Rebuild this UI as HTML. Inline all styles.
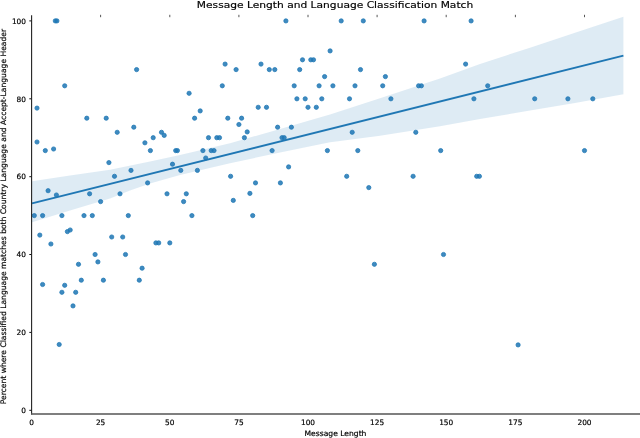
<!DOCTYPE html>
<html lang="en">
<head>
<meta charset="utf-8">
<title>Message Length and Language Classification Match</title>
<style>
html,body{margin:0;padding:0;background:#fff;}
body{width:640px;height:438px;overflow:hidden;}
svg{display:block;}
svg text{font-family:"DejaVu Sans","Liberation Sans",sans-serif;fill:#000;stroke:#000;stroke-width:0.18px;}
.tick{font-size:7.4px;}
.lab{font-size:7.6px;}
.title{font-size:10.68px;}
</style>
</head>
<body>
<svg width="640" height="438" viewBox="0 0 640 438">
<rect width="640" height="438" fill="#ffffff"/>
<polygon points="32.0,181.3 70.0,175.6 110.0,169.7 150.0,161.4 180.0,154.9 230.0,143.2 280.0,129.0 330.0,114.4 340.0,111.3 380.0,98.3 440.0,78.6 480.0,64.0 530.0,47.7 575.0,32.8 623.4,16.8 623.4,94.2 575.0,102.9 530.0,110.5 480.0,119.1 440.0,126.3 380.0,135.8 340.0,141.0 330.0,142.3 280.0,152.5 230.0,163.2 180.0,175.0 150.0,183.6 130.0,190.6 110.0,198.6 70.0,210.4 32.0,222.3" fill="#1f77b4" fill-opacity="0.15"/>
<g fill="#1f77b4" fill-opacity="0.86" stroke="#1f77b4" stroke-opacity="0.95" stroke-width="0.8">
<circle cx="55.3" cy="20.9" r="2.12"/>
<circle cx="56.9" cy="20.9" r="2.12"/>
<circle cx="64.7" cy="85.8" r="2.12"/>
<circle cx="136.6" cy="69.6" r="2.12"/>
<circle cx="189.1" cy="93.3" r="2.12"/>
<circle cx="37.0" cy="108.1" r="2.12"/>
<circle cx="86.8" cy="118.2" r="2.12"/>
<circle cx="106.2" cy="118.2" r="2.12"/>
<circle cx="285.9" cy="20.9" r="2.12"/>
<circle cx="341.2" cy="20.9" r="2.12"/>
<circle cx="330.1" cy="50.9" r="2.12"/>
<circle cx="302.5" cy="59.8" r="2.12"/>
<circle cx="310.8" cy="59.8" r="2.12"/>
<circle cx="313.5" cy="59.8" r="2.12"/>
<circle cx="225.1" cy="64.1" r="2.12"/>
<circle cx="261.0" cy="64.1" r="2.12"/>
<circle cx="236.1" cy="69.6" r="2.12"/>
<circle cx="269.3" cy="69.6" r="2.12"/>
<circle cx="274.8" cy="69.6" r="2.12"/>
<circle cx="299.7" cy="69.6" r="2.12"/>
<circle cx="324.6" cy="76.6" r="2.12"/>
<circle cx="222.3" cy="85.8" r="2.12"/>
<circle cx="294.2" cy="85.8" r="2.12"/>
<circle cx="319.1" cy="85.8" r="2.12"/>
<circle cx="332.9" cy="85.8" r="2.12"/>
<circle cx="296.9" cy="98.8" r="2.12"/>
<circle cx="305.2" cy="98.8" r="2.12"/>
<circle cx="321.8" cy="98.8" r="2.12"/>
<circle cx="349.5" cy="98.8" r="2.12"/>
<circle cx="258.2" cy="107.3" r="2.12"/>
<circle cx="266.5" cy="107.3" r="2.12"/>
<circle cx="308.0" cy="107.3" r="2.12"/>
<circle cx="316.3" cy="107.3" r="2.12"/>
<circle cx="200.2" cy="110.9" r="2.12"/>
<circle cx="194.6" cy="118.2" r="2.12"/>
<circle cx="227.8" cy="118.2" r="2.12"/>
<circle cx="241.6" cy="118.2" r="2.12"/>
<circle cx="363.3" cy="20.9" r="2.12"/>
<circle cx="424.1" cy="20.9" r="2.12"/>
<circle cx="471.1" cy="20.9" r="2.12"/>
<circle cx="465.6" cy="64.1" r="2.12"/>
<circle cx="360.5" cy="69.6" r="2.12"/>
<circle cx="385.4" cy="76.6" r="2.12"/>
<circle cx="355.0" cy="85.8" r="2.12"/>
<circle cx="382.7" cy="85.8" r="2.12"/>
<circle cx="418.6" cy="85.8" r="2.12"/>
<circle cx="421.4" cy="85.8" r="2.12"/>
<circle cx="487.7" cy="85.8" r="2.12"/>
<circle cx="390.9" cy="98.8" r="2.12"/>
<circle cx="473.9" cy="98.8" r="2.12"/>
<circle cx="534.7" cy="98.8" r="2.12"/>
<circle cx="567.9" cy="98.8" r="2.12"/>
<circle cx="592.8" cy="98.8" r="2.12"/>
<circle cx="133.8" cy="127.2" r="2.12"/>
<circle cx="117.2" cy="132.3" r="2.12"/>
<circle cx="161.5" cy="132.3" r="2.12"/>
<circle cx="164.2" cy="135.4" r="2.12"/>
<circle cx="153.2" cy="137.7" r="2.12"/>
<circle cx="37.0" cy="142.0" r="2.12"/>
<circle cx="144.9" cy="142.8" r="2.12"/>
<circle cx="53.6" cy="149.0" r="2.12"/>
<circle cx="45.3" cy="150.6" r="2.12"/>
<circle cx="150.4" cy="150.6" r="2.12"/>
<circle cx="175.7" cy="150.6" r="2.12"/>
<circle cx="177.4" cy="150.6" r="2.12"/>
<circle cx="108.9" cy="162.6" r="2.12"/>
<circle cx="172.5" cy="164.2" r="2.12"/>
<circle cx="131.0" cy="170.4" r="2.12"/>
<circle cx="180.8" cy="170.4" r="2.12"/>
<circle cx="114.5" cy="176.3" r="2.12"/>
<circle cx="147.6" cy="182.9" r="2.12"/>
<circle cx="48.1" cy="190.7" r="2.12"/>
<circle cx="89.6" cy="193.8" r="2.12"/>
<circle cx="120.0" cy="193.8" r="2.12"/>
<circle cx="167.0" cy="193.8" r="2.12"/>
<circle cx="186.3" cy="193.8" r="2.12"/>
<circle cx="56.4" cy="195.0" r="2.12"/>
<circle cx="100.6" cy="201.6" r="2.12"/>
<circle cx="183.6" cy="201.6" r="2.12"/>
<circle cx="34.3" cy="215.6" r="2.12"/>
<circle cx="42.6" cy="215.6" r="2.12"/>
<circle cx="61.9" cy="215.6" r="2.12"/>
<circle cx="84.0" cy="215.6" r="2.12"/>
<circle cx="92.3" cy="215.6" r="2.12"/>
<circle cx="128.3" cy="215.6" r="2.12"/>
<circle cx="191.9" cy="215.6" r="2.12"/>
<circle cx="252.7" cy="215.6" r="2.12"/>
<circle cx="238.9" cy="124.5" r="2.12"/>
<circle cx="277.6" cy="127.2" r="2.12"/>
<circle cx="291.4" cy="127.2" r="2.12"/>
<circle cx="247.2" cy="131.9" r="2.12"/>
<circle cx="244.4" cy="137.7" r="2.12"/>
<circle cx="208.5" cy="137.7" r="2.12"/>
<circle cx="216.8" cy="137.7" r="2.12"/>
<circle cx="219.5" cy="137.7" r="2.12"/>
<circle cx="282.0" cy="137.7" r="2.12"/>
<circle cx="284.2" cy="137.7" r="2.12"/>
<circle cx="202.9" cy="150.6" r="2.12"/>
<circle cx="211.2" cy="150.6" r="2.12"/>
<circle cx="214.0" cy="150.6" r="2.12"/>
<circle cx="272.1" cy="150.6" r="2.12"/>
<circle cx="327.4" cy="150.6" r="2.12"/>
<circle cx="205.7" cy="158.0" r="2.12"/>
<circle cx="288.6" cy="166.9" r="2.12"/>
<circle cx="197.4" cy="170.4" r="2.12"/>
<circle cx="230.6" cy="176.3" r="2.12"/>
<circle cx="346.7" cy="176.3" r="2.12"/>
<circle cx="255.5" cy="182.9" r="2.12"/>
<circle cx="280.4" cy="182.9" r="2.12"/>
<circle cx="249.9" cy="193.4" r="2.12"/>
<circle cx="233.3" cy="200.4" r="2.12"/>
<circle cx="352.2" cy="132.3" r="2.12"/>
<circle cx="415.8" cy="132.3" r="2.12"/>
<circle cx="357.8" cy="150.6" r="2.12"/>
<circle cx="440.7" cy="150.6" r="2.12"/>
<circle cx="413.1" cy="176.3" r="2.12"/>
<circle cx="476.7" cy="176.3" r="2.12"/>
<circle cx="479.4" cy="176.3" r="2.12"/>
<circle cx="368.8" cy="187.6" r="2.12"/>
<circle cx="584.5" cy="150.6" r="2.12"/>
<circle cx="70.2" cy="230.0" r="2.12"/>
<circle cx="67.4" cy="231.6" r="2.12"/>
<circle cx="39.8" cy="235.1" r="2.12"/>
<circle cx="111.7" cy="237.0" r="2.12"/>
<circle cx="122.7" cy="237.0" r="2.12"/>
<circle cx="155.9" cy="242.9" r="2.12"/>
<circle cx="158.7" cy="242.9" r="2.12"/>
<circle cx="169.8" cy="242.9" r="2.12"/>
<circle cx="50.9" cy="244.0" r="2.12"/>
<circle cx="95.1" cy="254.5" r="2.12"/>
<circle cx="125.5" cy="254.5" r="2.12"/>
<circle cx="97.9" cy="261.9" r="2.12"/>
<circle cx="78.5" cy="264.3" r="2.12"/>
<circle cx="142.1" cy="268.2" r="2.12"/>
<circle cx="81.3" cy="280.2" r="2.12"/>
<circle cx="103.4" cy="280.2" r="2.12"/>
<circle cx="139.3" cy="280.2" r="2.12"/>
<circle cx="42.6" cy="284.5" r="2.12"/>
<circle cx="64.7" cy="285.3" r="2.12"/>
<circle cx="61.9" cy="292.3" r="2.12"/>
<circle cx="75.7" cy="292.3" r="2.12"/>
<circle cx="73.0" cy="305.9" r="2.12"/>
<circle cx="59.2" cy="344.5" r="2.12"/>
<circle cx="443.5" cy="254.5" r="2.12"/>
<circle cx="374.4" cy="264.3" r="2.12"/>
<circle cx="518.1" cy="344.9" r="2.12"/>
</g>
<line x1="32.0" y1="203.4" x2="623.4" y2="55.7" stroke="#1f77b4" stroke-width="1.9"/>
<g stroke="#111" stroke-width="1">
<line x1="29.3" x2="31.5" y1="410.3" y2="410.3"/>
<line x1="29.3" x2="31.5" y1="332.4" y2="332.4"/>
<line x1="29.3" x2="31.5" y1="254.5" y2="254.5"/>
<line x1="29.3" x2="31.5" y1="176.7" y2="176.7"/>
<line x1="29.3" x2="31.5" y1="98.8" y2="98.8"/>
<line x1="29.3" x2="31.5" y1="20.9" y2="20.9"/>
</g>
<g stroke="#444" stroke-width="0.9">
<line x1="100.6" x2="100.6" y1="14.8" y2="17.2"/>
<line x1="169.8" x2="169.8" y1="14.8" y2="17.2"/>
<line x1="238.9" x2="238.9" y1="14.8" y2="17.2"/>
<line x1="308.0" x2="308.0" y1="14.8" y2="17.2"/>
<line x1="377.1" x2="377.1" y1="14.8" y2="17.2"/>
<line x1="446.2" x2="446.2" y1="14.8" y2="17.2"/>
<line x1="515.4" x2="515.4" y1="14.8" y2="17.2"/>
<line x1="584.5" x2="584.5" y1="14.8" y2="17.2"/>
</g>
<line x1="31.6" x2="31.6" y1="15.2" y2="414.4" stroke="#222" stroke-width="1.1"/>
<line x1="31" x2="640" y1="414" y2="414" stroke="#555" stroke-width="1.3"/>
<g class="tick">
<text x="31.5" y="425" text-anchor="middle">0</text>
<text x="100.6" y="425" text-anchor="middle">25</text>
<text x="169.8" y="425" text-anchor="middle">50</text>
<text x="238.9" y="425" text-anchor="middle">75</text>
<text x="308.0" y="425" text-anchor="middle">100</text>
<text x="377.1" y="425" text-anchor="middle">125</text>
<text x="446.2" y="425" text-anchor="middle">150</text>
<text x="515.4" y="425" text-anchor="middle">175</text>
<text x="584.5" y="425" text-anchor="middle">200</text>
<text x="26" y="413.0" text-anchor="end">0</text>
<text x="26" y="335.1" text-anchor="end">20</text>
<text x="26" y="257.2" text-anchor="end">40</text>
<text x="26" y="179.4" text-anchor="end">60</text>
<text x="26" y="101.5" text-anchor="end">80</text>
<text x="26" y="23.6" text-anchor="end">100</text>
</g>
<text class="lab" x="335.5" y="435.5" text-anchor="middle">Message Length</text>
<text class="lab" transform="translate(6.1,216.6) rotate(-90)" text-anchor="middle">Percent where Classified Language matches both Country Language and Accept-Language Header</text>
<text class="title" transform="translate(335,7.7) scale(1,0.87)" text-anchor="middle">Message Length and Language Classification Match</text>
</svg>
</body>
</html>
